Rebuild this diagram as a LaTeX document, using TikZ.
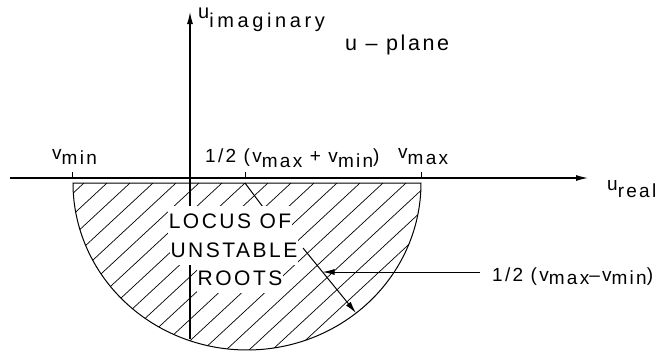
\documentclass[tikz,border=0pt]{standalone}
\usepackage{fontspec}
\setmainfont{Liberation Sans}[LetterSpace=12]
\usetikzlibrary{arrows.meta}
\newcommand\lowsub[2]{\raisebox{-#1}{#2}}
\begin{document}
\begin{tikzpicture}[x=1pt,y=-1pt,
  axisline/.style={line width=1.1pt},
  edgeline/.style={line width=1pt},
  hatchline/.style={line width=0.7pt},
  tipped/.style={-{Latex[length=12pt,width=6pt]}},
  lab/.style={inner sep=0pt,anchor=base west,font=\fontsize{19}{22}\selectfont},
  locustext/.style={inner sep=1pt,fill=white,font=\fontsize{21}{25}\selectfont,minimum height=29.5pt}]
\useasboundingbox (0,0) rectangle (657,351);
% coordinates
\coordinate (xl) at (10,178);
\coordinate (xr) at (588,178);
\coordinate (yt) at (190,12);
\coordinate (yb) at (190,339);
\coordinate (tminb) at (72,178);  \coordinate (tmint) at (72,172);
\coordinate (tmidb) at (245,178); \coordinate (tmidt) at (245,172);
\coordinate (tmaxb) at (421,178); \coordinate (tmaxt) at (421,172);
\coordinate (xa) at (245,183); \coordinate (xb) at (263,207);
\coordinate (rs) at (303,248); \coordinate (re) at (356,313);
\coordinate (ls) at (480,272); \coordinate (le) at (322.5,272);
% hatching
\begin{scope}
\clip (73,183) -- plot[domain=180:0,samples=120] ({247+174*cos(\x)},{183+167*sin(\x)}) -- cycle;
\foreach \k in {0,...,26} \draw[hatchline] ({84+23*\k},183) -- ++(-250,232);
\end{scope}
\draw[edgeline] (73,183) -- plot[domain=180:0,samples=120] ({247+174*cos(\x)},{183+167*sin(\x)}) -- cycle;
% axes
\draw[axisline,tipped] (yb) -- (yt);
\draw[axisline,tipped] (xl) -- (xr);
\draw[edgeline] (tminb) -- (tmint);
\draw[edgeline] (tmidb) -- (tmidt);
\draw[edgeline] (tmaxb) -- (tmaxt);
\draw[edgeline] (xa) -- (xb);
% text in region
\node[locustext] (l1) at (230,221) {LOCUS OF};
\node[locustext] (l2) at (234,250) {UNSTABLE};
\node[locustext] (l3) at (240,278) {ROOTS};
% radius arrow and leader
\draw[edgeline,tipped] (rs) -- (re);
\draw[edgeline,tipped] (ls) -- (le);
% labels
\node[lab,font=\fontsize{20}{24}\selectfont\addfontfeature{LetterSpace=18}] (uim) at (198,18) {u\lowsub{9pt}{imaginary}};
\node[lab,font=\fontsize{21.5}{25}\selectfont] (up) at (345,50) {u – plane};
\node[lab] (vmin) at (52,159) {v\lowsub{5pt}{min}};
\node[lab] (half) at (205,162) {1/2 (v\lowsub{5pt}{max} + v\lowsub{5pt}{min})};
\node[lab] (vmax) at (398,158) {v\lowsub{6pt}{max}};
\node[lab] (ure) at (607,190) {u\lowsub{7pt}{real}};
\node[lab] (rad) at (492,281) {1/2 (v\lowsub{3pt}{max}–v\lowsub{3pt}{min})};
\end{tikzpicture}
\end{document}
